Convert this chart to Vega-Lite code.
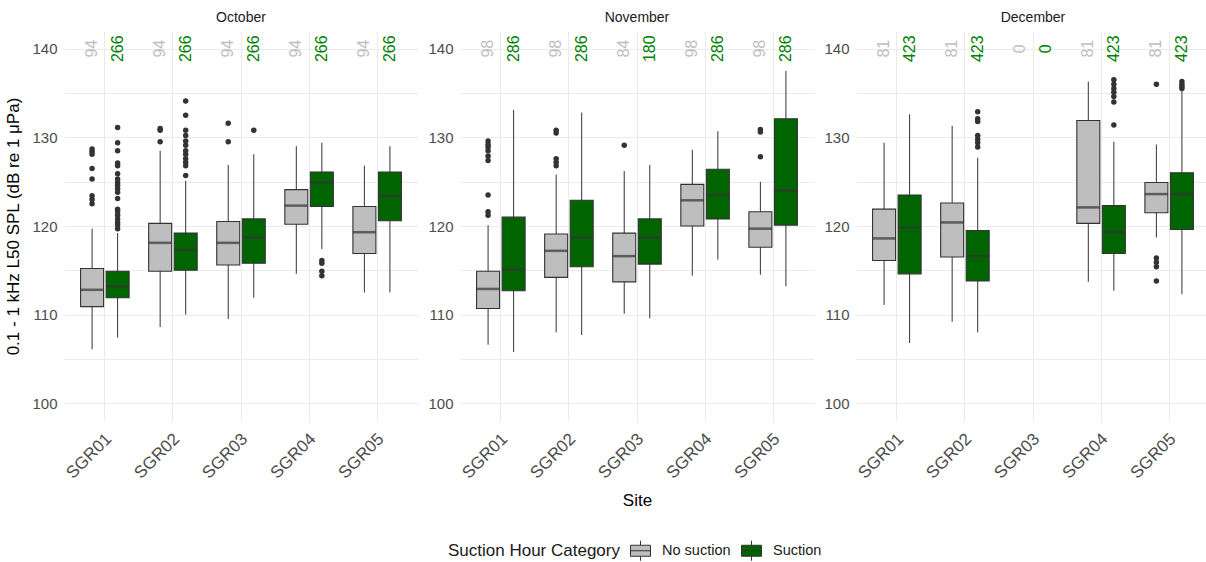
{
"$schema": "https://vega.github.io/schema/vega-lite/v6.json",
"padding": {"left": 4, "top": 11, "right": 0, "bottom": 0},
"config": {
  "font": "Liberation Sans",
  "view": {"stroke": null},
  "axis": {"domain": false, "ticks": false, "gridColor": "#EBEBEB", "gridWidth": 1, "labelColor": "#4D4D4D", "titleColor": "#000000", "titleFontWeight": "normal"},
  "title": {"fontSize": 14, "fontWeight": "normal", "color": "#1A1A1A", "offset": 6, "anchor": "middle"}
},
"datasets": {
  "boxes": [
    {"Month":"October","Site":"SGR01","Category":"No suction","lo":106.1,"q1":110.9,"med":112.8,"q3":115.2,"hi":119.7},
    {"Month":"October","Site":"SGR01","Category":"Suction","lo":107.4,"q1":111.9,"med":113.2,"q3":114.9,"hi":119.2},
    {"Month":"October","Site":"SGR02","Category":"No suction","lo":108.6,"q1":114.9,"med":118.1,"q3":120.3,"hi":128.5},
    {"Month":"October","Site":"SGR02","Category":"Suction","lo":110.0,"q1":115.0,"med":117.3,"q3":119.2,"hi":125.1},
    {"Month":"October","Site":"SGR03","Category":"No suction","lo":109.5,"q1":115.6,"med":118.1,"q3":120.5,"hi":126.9},
    {"Month":"October","Site":"SGR03","Category":"Suction","lo":111.9,"q1":115.8,"med":118.7,"q3":120.8,"hi":128.1},
    {"Month":"October","Site":"SGR04","Category":"No suction","lo":114.6,"q1":120.2,"med":122.3,"q3":124.1,"hi":129.0},
    {"Month":"October","Site":"SGR04","Category":"Suction","lo":117.4,"q1":122.2,"med":124.9,"q3":126.1,"hi":129.4},
    {"Month":"October","Site":"SGR05","Category":"No suction","lo":112.5,"q1":116.9,"med":119.3,"q3":122.2,"hi":126.8},
    {"Month":"October","Site":"SGR05","Category":"Suction","lo":112.5,"q1":120.6,"med":123.4,"q3":126.1,"hi":129.0},
    {"Month":"November","Site":"SGR01","Category":"No suction","lo":106.6,"q1":110.7,"med":112.9,"q3":114.9,"hi":120.1},
    {"Month":"November","Site":"SGR01","Category":"Suction","lo":105.8,"q1":112.7,"med":115.1,"q3":121.0,"hi":133.1},
    {"Month":"November","Site":"SGR02","Category":"No suction","lo":108.0,"q1":114.2,"med":117.2,"q3":119.1,"hi":125.8},
    {"Month":"November","Site":"SGR02","Category":"Suction","lo":107.7,"q1":115.4,"med":118.7,"q3":122.9,"hi":132.8},
    {"Month":"November","Site":"SGR03","Category":"No suction","lo":110.1,"q1":113.7,"med":116.6,"q3":119.2,"hi":126.2},
    {"Month":"November","Site":"SGR03","Category":"Suction","lo":109.6,"q1":115.7,"med":118.7,"q3":120.8,"hi":126.9},
    {"Month":"November","Site":"SGR04","Category":"No suction","lo":114.4,"q1":120.0,"med":122.9,"q3":124.7,"hi":128.6},
    {"Month":"November","Site":"SGR04","Category":"Suction","lo":116.2,"q1":120.8,"med":123.5,"q3":126.4,"hi":130.7},
    {"Month":"November","Site":"SGR05","Category":"No suction","lo":114.5,"q1":117.6,"med":119.7,"q3":121.6,"hi":125.0},
    {"Month":"November","Site":"SGR05","Category":"Suction","lo":113.2,"q1":120.1,"med":124.0,"q3":132.1,"hi":137.5},
    {"Month":"December","Site":"SGR01","Category":"No suction","lo":111.1,"q1":116.1,"med":118.6,"q3":121.9,"hi":129.4},
    {"Month":"December","Site":"SGR01","Category":"Suction","lo":106.8,"q1":114.6,"med":119.8,"q3":123.5,"hi":132.6},
    {"Month":"December","Site":"SGR02","Category":"No suction","lo":109.2,"q1":116.5,"med":120.4,"q3":122.6,"hi":131.3},
    {"Month":"December","Site":"SGR02","Category":"Suction","lo":108.0,"q1":113.8,"med":116.6,"q3":119.5,"hi":127.7},
    {"Month":"December","Site":"SGR04","Category":"No suction","lo":113.7,"q1":120.3,"med":122.1,"q3":131.9,"hi":136.3},
    {"Month":"December","Site":"SGR04","Category":"Suction","lo":112.7,"q1":116.9,"med":119.3,"q3":122.3,"hi":129.5},
    {"Month":"December","Site":"SGR05","Category":"No suction","lo":118.7,"q1":121.5,"med":123.6,"q3":124.9,"hi":129.2},
    {"Month":"December","Site":"SGR05","Category":"Suction","lo":112.3,"q1":119.6,"med":123.6,"q3":126.0,"hi":135.4}
  ],
  "outliers": [
    {"Month":"October","Site":"SGR01","Category":"No suction","value":128.7},
    {"Month":"October","Site":"SGR01","Category":"No suction","value":128.4},
    {"Month":"October","Site":"SGR01","Category":"No suction","value":128.1},
    {"Month":"October","Site":"SGR01","Category":"No suction","value":126.5},
    {"Month":"October","Site":"SGR01","Category":"No suction","value":125.3},
    {"Month":"October","Site":"SGR01","Category":"No suction","value":123.4},
    {"Month":"October","Site":"SGR01","Category":"No suction","value":123.0},
    {"Month":"October","Site":"SGR01","Category":"No suction","value":122.5},
    {"Month":"October","Site":"SGR01","Category":"Suction","value":131.1},
    {"Month":"October","Site":"SGR01","Category":"Suction","value":129.4},
    {"Month":"October","Site":"SGR01","Category":"Suction","value":128.5},
    {"Month":"October","Site":"SGR01","Category":"Suction","value":127.1},
    {"Month":"October","Site":"SGR01","Category":"Suction","value":126.8},
    {"Month":"October","Site":"SGR01","Category":"Suction","value":125.9},
    {"Month":"October","Site":"SGR01","Category":"Suction","value":125.3},
    {"Month":"October","Site":"SGR01","Category":"Suction","value":124.9},
    {"Month":"October","Site":"SGR01","Category":"Suction","value":124.6},
    {"Month":"October","Site":"SGR01","Category":"Suction","value":124.2},
    {"Month":"October","Site":"SGR01","Category":"Suction","value":123.8},
    {"Month":"October","Site":"SGR01","Category":"Suction","value":123.1},
    {"Month":"October","Site":"SGR01","Category":"Suction","value":121.9},
    {"Month":"October","Site":"SGR01","Category":"Suction","value":121.6},
    {"Month":"October","Site":"SGR01","Category":"Suction","value":121.2},
    {"Month":"October","Site":"SGR01","Category":"Suction","value":120.8},
    {"Month":"October","Site":"SGR01","Category":"Suction","value":120.4},
    {"Month":"October","Site":"SGR01","Category":"Suction","value":120.1},
    {"Month":"October","Site":"SGR01","Category":"Suction","value":119.7},
    {"Month":"October","Site":"SGR02","Category":"No suction","value":131.0},
    {"Month":"October","Site":"SGR02","Category":"No suction","value":130.8},
    {"Month":"October","Site":"SGR02","Category":"No suction","value":129.5},
    {"Month":"October","Site":"SGR02","Category":"Suction","value":134.1},
    {"Month":"October","Site":"SGR02","Category":"Suction","value":132.5},
    {"Month":"October","Site":"SGR02","Category":"Suction","value":130.8},
    {"Month":"October","Site":"SGR02","Category":"Suction","value":130.2},
    {"Month":"October","Site":"SGR02","Category":"Suction","value":129.6},
    {"Month":"October","Site":"SGR02","Category":"Suction","value":129.1},
    {"Month":"October","Site":"SGR02","Category":"Suction","value":128.5},
    {"Month":"October","Site":"SGR02","Category":"Suction","value":128.1},
    {"Month":"October","Site":"SGR02","Category":"Suction","value":127.6},
    {"Month":"October","Site":"SGR02","Category":"Suction","value":127.2},
    {"Month":"October","Site":"SGR02","Category":"Suction","value":126.8},
    {"Month":"October","Site":"SGR02","Category":"Suction","value":125.7},
    {"Month":"October","Site":"SGR03","Category":"No suction","value":131.6},
    {"Month":"October","Site":"SGR03","Category":"No suction","value":129.5},
    {"Month":"October","Site":"SGR03","Category":"Suction","value":130.8},
    {"Month":"October","Site":"SGR04","Category":"Suction","value":116.1},
    {"Month":"October","Site":"SGR04","Category":"Suction","value":115.8},
    {"Month":"October","Site":"SGR04","Category":"Suction","value":114.9},
    {"Month":"October","Site":"SGR04","Category":"Suction","value":114.4},
    {"Month":"November","Site":"SGR01","Category":"No suction","value":129.6},
    {"Month":"November","Site":"SGR01","Category":"No suction","value":129.2},
    {"Month":"November","Site":"SGR01","Category":"No suction","value":128.9},
    {"Month":"November","Site":"SGR01","Category":"No suction","value":128.5},
    {"Month":"November","Site":"SGR01","Category":"No suction","value":127.9},
    {"Month":"November","Site":"SGR01","Category":"No suction","value":127.4},
    {"Month":"November","Site":"SGR01","Category":"No suction","value":123.5},
    {"Month":"November","Site":"SGR01","Category":"No suction","value":121.6},
    {"Month":"November","Site":"SGR01","Category":"No suction","value":121.2},
    {"Month":"November","Site":"SGR02","Category":"No suction","value":130.8},
    {"Month":"November","Site":"SGR02","Category":"No suction","value":130.5},
    {"Month":"November","Site":"SGR02","Category":"No suction","value":127.6},
    {"Month":"November","Site":"SGR02","Category":"No suction","value":127.2},
    {"Month":"November","Site":"SGR02","Category":"No suction","value":126.8},
    {"Month":"November","Site":"SGR03","Category":"No suction","value":129.1},
    {"Month":"November","Site":"SGR05","Category":"No suction","value":130.9},
    {"Month":"November","Site":"SGR05","Category":"No suction","value":130.6},
    {"Month":"November","Site":"SGR05","Category":"No suction","value":127.8},
    {"Month":"December","Site":"SGR02","Category":"Suction","value":132.9},
    {"Month":"December","Site":"SGR02","Category":"Suction","value":132.1},
    {"Month":"December","Site":"SGR02","Category":"Suction","value":131.8},
    {"Month":"December","Site":"SGR02","Category":"Suction","value":130.2},
    {"Month":"December","Site":"SGR02","Category":"Suction","value":129.8},
    {"Month":"December","Site":"SGR02","Category":"Suction","value":129.4},
    {"Month":"December","Site":"SGR02","Category":"Suction","value":128.9},
    {"Month":"December","Site":"SGR04","Category":"Suction","value":136.5},
    {"Month":"December","Site":"SGR04","Category":"Suction","value":136.0},
    {"Month":"December","Site":"SGR04","Category":"Suction","value":135.5},
    {"Month":"December","Site":"SGR04","Category":"Suction","value":135.1},
    {"Month":"December","Site":"SGR04","Category":"Suction","value":134.6},
    {"Month":"December","Site":"SGR04","Category":"Suction","value":134.0},
    {"Month":"December","Site":"SGR04","Category":"Suction","value":131.4},
    {"Month":"December","Site":"SGR05","Category":"No suction","value":136.0},
    {"Month":"December","Site":"SGR05","Category":"No suction","value":116.4},
    {"Month":"December","Site":"SGR05","Category":"No suction","value":115.9},
    {"Month":"December","Site":"SGR05","Category":"No suction","value":115.4},
    {"Month":"December","Site":"SGR05","Category":"No suction","value":113.8},
    {"Month":"December","Site":"SGR05","Category":"Suction","value":136.3},
    {"Month":"December","Site":"SGR05","Category":"Suction","value":136.0},
    {"Month":"December","Site":"SGR05","Category":"Suction","value":135.7},
    {"Month":"December","Site":"SGR05","Category":"Suction","value":135.5}
  ],
  "counts": [
    {"Month":"October","Site":"SGR01","Category":"No suction","n":94},
    {"Month":"October","Site":"SGR01","Category":"Suction","n":266},
    {"Month":"October","Site":"SGR02","Category":"No suction","n":94},
    {"Month":"October","Site":"SGR02","Category":"Suction","n":266},
    {"Month":"October","Site":"SGR03","Category":"No suction","n":94},
    {"Month":"October","Site":"SGR03","Category":"Suction","n":266},
    {"Month":"October","Site":"SGR04","Category":"No suction","n":94},
    {"Month":"October","Site":"SGR04","Category":"Suction","n":266},
    {"Month":"October","Site":"SGR05","Category":"No suction","n":94},
    {"Month":"October","Site":"SGR05","Category":"Suction","n":266},
    {"Month":"November","Site":"SGR01","Category":"No suction","n":98},
    {"Month":"November","Site":"SGR01","Category":"Suction","n":286},
    {"Month":"November","Site":"SGR02","Category":"No suction","n":98},
    {"Month":"November","Site":"SGR02","Category":"Suction","n":286},
    {"Month":"November","Site":"SGR03","Category":"No suction","n":84},
    {"Month":"November","Site":"SGR03","Category":"Suction","n":180},
    {"Month":"November","Site":"SGR04","Category":"No suction","n":98},
    {"Month":"November","Site":"SGR04","Category":"Suction","n":286},
    {"Month":"November","Site":"SGR05","Category":"No suction","n":98},
    {"Month":"November","Site":"SGR05","Category":"Suction","n":286},
    {"Month":"December","Site":"SGR01","Category":"No suction","n":81},
    {"Month":"December","Site":"SGR01","Category":"Suction","n":423},
    {"Month":"December","Site":"SGR02","Category":"No suction","n":81},
    {"Month":"December","Site":"SGR02","Category":"Suction","n":423},
    {"Month":"December","Site":"SGR03","Category":"No suction","n":0},
    {"Month":"December","Site":"SGR03","Category":"Suction","n":0},
    {"Month":"December","Site":"SGR04","Category":"No suction","n":81},
    {"Month":"December","Site":"SGR04","Category":"Suction","n":423},
    {"Month":"December","Site":"SGR05","Category":"No suction","n":81},
    {"Month":"December","Site":"SGR05","Category":"Suction","n":423}
  ]
},
"spacing": 9,
"hconcat": [
  {
    "width": 354, "height": 390,
    "title": {"text": "October"},
    "encoding": {
      "x": {"field": "Site", "type": "nominal", "title": null,
            "scale": {"domain": ["SGR01","SGR02","SGR03","SGR04","SGR05"], "paddingInner": 0, "paddingOuter": 0.1},
            "axis": {"labelAngle": -45, "labelAlign": "right", "labelBaseline": "middle", "labelFontSize": 17, "labelPadding": 15, "labelOffset": 4, "bandPosition": 0.5, "grid": true}},
      "xOffset": {"field": "Category", "type": "nominal", "scale": {"domain": ["No suction","Suction"], "paddingInner": 0.1, "paddingOuter": 0.383}}
    },
    "layer": [
      {"data": {"name": "boxes"}, "transform": [{"filter": "datum.Month == 'October'"}],
       "layer": [
         {"mark": {"type": "rule", "color": "#333333", "strokeWidth": 1},
          "encoding": {"y": {"field": "lo", "type": "quantitative", "title": "0.1 - 1 kHz L50 SPL (dB re 1 μPa)",
                             "scale": {"domain": [98, 142], "nice": false, "zero": false},
                             "axis": {"values": [100,105,110,115,120,125,130,135,140], "labelExpr": "datum.value % 10 == 0 ? datum.label : ''", "labelFontSize": 15, "labelPadding": 7, "titleFontSize": 17, "titlePadding": 9}},
                       "y2": {"field": "hi"}}},
         {"mark": {"type": "bar", "stroke": "#333333", "strokeWidth": 1.1},
          "encoding": {"y": {"field": "q1", "type": "quantitative", "title": "0.1 - 1 kHz L50 SPL (dB re 1 μPa)"}, "y2": {"field": "q3"},
                       "fill": {"field": "Category", "type": "nominal", "scale": {"domain": ["No suction","Suction"], "range": ["#BEBEBE","#006400"]},
                                "legend": {"orient": "none", "legendX": 384, "legendY": 509, "direction": "horizontal", "titleOrient": "left", "title": "Suction Hour Category",
                                           "titleFontSize": 17, "titleFontWeight": "normal", "titleColor": "#1A1A1A", "titlePadding": 10, "labelFontSize": 14.5, "labelColor": "#1A1A1A",
                                           "symbolType": "M-1,-0.55H1V0.55H-1Z M-1,0H1 M0,-0.55V-1 M0,0.55V1", "symbolSize": 400, "symbolStrokeColor": "#333333", "symbolStrokeWidth": 1, "symbolOpacity": 1, "columnPadding": 8, "labelOffset": 11}}}},
         {"mark": {"type": "tick", "color": "#333333", "thickness": 2.5, "size": 23},
          "encoding": {"y": {"field": "med", "type": "quantitative", "title": "0.1 - 1 kHz L50 SPL (dB re 1 μPa)"}}}
       ]},
      {"data": {"name": "outliers"}, "transform": [{"filter": "datum.Month == 'October'"}],
       "mark": {"type": "point", "filled": true, "color": "#333333", "size": 30, "opacity": 1},
       "encoding": {"y": {"field": "value", "type": "quantitative", "title": "0.1 - 1 kHz L50 SPL (dB re 1 μPa)"}}},
      {"data": {"name": "counts"}, "transform": [{"filter": "datum.Month == 'October'"}],
       "mark": {"type": "text", "angle": 270, "fontSize": 16, "align": "center", "baseline": "middle"},
       "encoding": {"y": {"datum": 140, "type": "quantitative", "title": "0.1 - 1 kHz L50 SPL (dB re 1 μPa)"},
                    "text": {"field": "n", "type": "nominal"},
                    "color": {"field": "Category", "type": "nominal", "scale": {"domain": ["No suction","Suction"], "range": ["#BEBEBE","#008000"]}, "legend": null}}}
    ]
  },
  {
    "width": 354, "height": 390,
    "title": {"text": "November"},
    "encoding": {
      "x": {"field": "Site", "type": "nominal", "title": "Site",
            "scale": {"domain": ["SGR01","SGR02","SGR03","SGR04","SGR05"], "paddingInner": 0, "paddingOuter": 0.1},
            "axis": {"labelAngle": -45, "labelAlign": "right", "labelBaseline": "middle", "labelFontSize": 17, "labelPadding": 15, "labelOffset": 4, "bandPosition": 0.5, "grid": true, "titleFontSize": 17, "titlePadding": 11}},
      "xOffset": {"field": "Category", "type": "nominal", "scale": {"domain": ["No suction","Suction"], "paddingInner": 0.1, "paddingOuter": 0.383}}
    },
    "layer": [
      {"data": {"name": "boxes"}, "transform": [{"filter": "datum.Month == 'November'"}],
       "layer": [
         {"mark": {"type": "rule", "color": "#333333", "strokeWidth": 1},
          "encoding": {"y": {"field": "lo", "type": "quantitative", "title": null,
                             "scale": {"domain": [98, 142], "nice": false, "zero": false},
                             "axis": {"values": [100,105,110,115,120,125,130,135,140], "labelExpr": "datum.value % 10 == 0 ? datum.label : ''", "labelFontSize": 15, "labelPadding": 7}},
                       "y2": {"field": "hi"}}},
         {"mark": {"type": "bar", "stroke": "#333333", "strokeWidth": 1.1},
          "encoding": {"y": {"field": "q1", "type": "quantitative", "title": null}, "y2": {"field": "q3"},
                       "fill": {"field": "Category", "type": "nominal"}}},
         {"mark": {"type": "tick", "color": "#333333", "thickness": 2.5, "size": 23},
          "encoding": {"y": {"field": "med", "type": "quantitative", "title": null}}}
       ]},
      {"data": {"name": "outliers"}, "transform": [{"filter": "datum.Month == 'November'"}],
       "mark": {"type": "point", "filled": true, "color": "#333333", "size": 30, "opacity": 1},
       "encoding": {"y": {"field": "value", "type": "quantitative", "title": null}}},
      {"data": {"name": "counts"}, "transform": [{"filter": "datum.Month == 'November'"}],
       "mark": {"type": "text", "angle": 270, "fontSize": 16, "align": "center", "baseline": "middle"},
       "encoding": {"y": {"datum": 140, "type": "quantitative", "title": null},
                    "text": {"field": "n", "type": "nominal"},
                    "color": {"field": "Category", "type": "nominal", "legend": null}}}
    ]
  },
  {
    "width": 354, "height": 390,
    "title": {"text": "December"},
    "encoding": {
      "x": {"field": "Site", "type": "nominal", "title": null,
            "scale": {"domain": ["SGR01","SGR02","SGR03","SGR04","SGR05"], "paddingInner": 0, "paddingOuter": 0.1},
            "axis": {"labelAngle": -45, "labelAlign": "right", "labelBaseline": "middle", "labelFontSize": 17, "labelPadding": 15, "labelOffset": 4, "bandPosition": 0.5, "grid": true}},
      "xOffset": {"field": "Category", "type": "nominal", "scale": {"domain": ["No suction","Suction"], "paddingInner": 0.1, "paddingOuter": 0.383}}
    },
    "layer": [
      {"data": {"name": "boxes"}, "transform": [{"filter": "datum.Month == 'December'"}],
       "layer": [
         {"mark": {"type": "rule", "color": "#333333", "strokeWidth": 1},
          "encoding": {"y": {"field": "lo", "type": "quantitative", "title": null,
                             "scale": {"domain": [98, 142], "nice": false, "zero": false},
                             "axis": {"values": [100,105,110,115,120,125,130,135,140], "labelExpr": "datum.value % 10 == 0 ? datum.label : ''", "labelFontSize": 15, "labelPadding": 7}},
                       "y2": {"field": "hi"}}},
         {"mark": {"type": "bar", "stroke": "#333333", "strokeWidth": 1.1},
          "encoding": {"y": {"field": "q1", "type": "quantitative", "title": null}, "y2": {"field": "q3"},
                       "fill": {"field": "Category", "type": "nominal"}}},
         {"mark": {"type": "tick", "color": "#333333", "thickness": 2.5, "size": 23},
          "encoding": {"y": {"field": "med", "type": "quantitative", "title": null}}}
       ]},
      {"data": {"name": "outliers"}, "transform": [{"filter": "datum.Month == 'December'"}],
       "mark": {"type": "point", "filled": true, "color": "#333333", "size": 30, "opacity": 1},
       "encoding": {"y": {"field": "value", "type": "quantitative", "title": null}}},
      {"data": {"name": "counts"}, "transform": [{"filter": "datum.Month == 'December'"}],
       "mark": {"type": "text", "angle": 270, "fontSize": 16, "align": "center", "baseline": "middle"},
       "encoding": {"y": {"datum": 140, "type": "quantitative", "title": null},
                    "text": {"field": "n", "type": "nominal"},
                    "color": {"field": "Category", "type": "nominal", "legend": null}}}
    ]
  }
]
}
